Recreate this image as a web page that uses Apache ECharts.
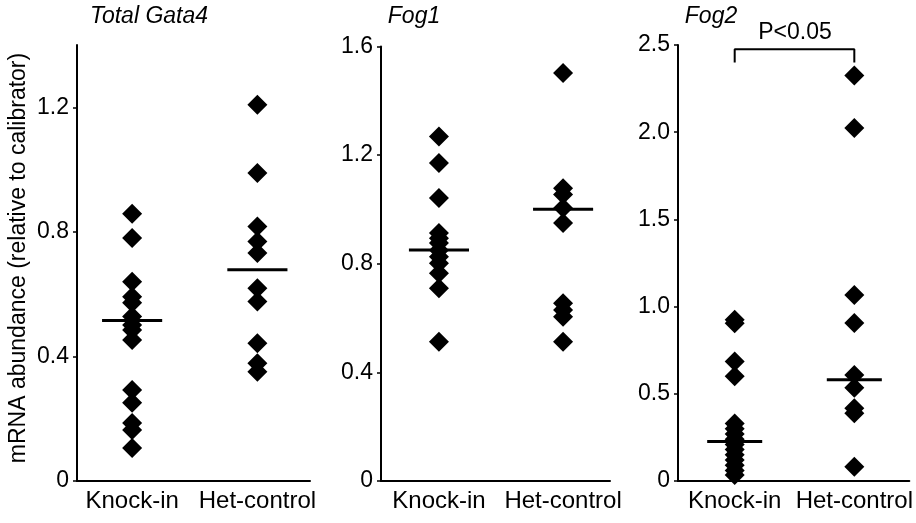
<!DOCTYPE html>
<html>
<head>
<meta charset="utf-8">
<script src="https://cdn.jsdelivr.net/npm/echarts@6/dist/echarts.min.js"></script>
<style>
html,body{margin:0;padding:0;background:#fff;}
#c{width:916px;height:523px;}
</style>
</head>
<body>
<div id="c"></div>
<script>
// ---- data ----
const categories = ['Knock-in', 'Het-control'];
const panelTitles = ['Total Gata4', 'Fog1', 'Fog2'];
const yAxisTitle = 'mRNA abundance (relative to calibrator)';
const sigLabel = 'P<0.05';

const gata4Knock = [0.858, 0.780, 0.640, 0.592, 0.572, 0.528, 0.501, 0.485, 0.453, 0.292, 0.251, 0.186, 0.164, 0.106];
const gata4Het   = [1.208, 0.989, 0.817, 0.769, 0.732, 0.619, 0.576, 0.442, 0.378, 0.351];
const gata4Mean  = [0.515, 0.678];

const fog1Knock = [1.269, 1.171, 1.042, 0.913, 0.894, 0.876, 0.850, 0.826, 0.802, 0.765, 0.710, 0.513];
const fog1Het   = [1.502, 1.078, 1.055, 1.005, 0.950, 0.655, 0.630, 0.605, 0.513];
const fog1Mean  = [0.851, 1.001];

const fog2Knock = [0.925, 0.905, 0.685, 0.600, 0.330, 0.300, 0.270, 0.240, 0.210, 0.180, 0.150, 0.120, 0.090, 0.060, 0.035];
const fog2Het   = [2.325, 2.024, 1.066, 0.906, 0.608, 0.535, 0.417, 0.388, 0.082];
const fog2Mean  = [0.227, 0.581];

const gata4Ticks = [0, 0.4, 0.8, 1.2];
const fog1Ticks  = [0, 0.4, 0.8, 1.2, 1.6];
const fog2Ticks  = [0, 0.5, 1.0, 1.5, 2.0, 2.5];
const yMax = [1.4, 1.6, 2.5];

// significance bracket (Fog2 panel), in data units
const bracketTop = 2.475;
const bracketFoot = 2.40;

// ---- layout / style ----
const FONT = '"Liberation Sans", Arial, Helvetica, sans-serif';
const panels = [
  { knock: gata4Knock, het: gata4Het, mean: gata4Mean, ticks: gata4Ticks,
    grid: { left: 77, right: 606, top: 45, bottom: 42 }, xr: [0.56, 2.42], half: 0.24 },
  { knock: fog1Knock, het: fog1Het, mean: fog1Mean, ticks: fog1Ticks,
    grid: { left: 381, right: 306, top: 46.5, bottom: 42 }, xr: [0.533, 2.378], half: 0.242 },
  { knock: fog2Knock, het: fog2Het, mean: fog2Mean, ticks: fog2Ticks,
    grid: { left: 678, right: 1, top: 45, bottom: 42 }, xr: [0.526, 2.46], half: 0.23 }
];

const grid = [], xAxis = [], yAxis = [], series = [];
panels.forEach((p, i) => {
  grid.push(p.grid);
  xAxis.push({
    type: 'value', gridIndex: i, min: p.xr[0], max: p.xr[1],
    axisLine: { show: true, lineStyle: { color: '#000', width: 2 } },
    axisTick: { show: false },
    splitLine: { show: false },
    axisLabel: {
      customValues: [1, 2],
      formatter: v => categories[Math.round(v) - 1],
      color: '#000', fontSize: 24, fontFamily: FONT, margin: 8
    }
  });
  yAxis.push({
    type: 'value', gridIndex: i, min: 0, max: yMax[i],
    axisLine: { show: true, lineStyle: { color: '#000', width: 2 } },
    axisTick: { show: true, customValues: p.ticks, length: 4, inside: false, lineStyle: { color: '#000', width: 1.5 } },
    splitLine: { show: false },
    axisLabel: {
      customValues: p.ticks,
      formatter: v => (v === 0 ? '0' : v.toFixed(1)),
      color: '#000', fontSize: 23, fontFamily: FONT, margin: 8
    }
  });
  const sym = { type: 'scatter', xAxisIndex: i, yAxisIndex: i, symbol: 'diamond', symbolSize: 20,
                itemStyle: { color: '#000', opacity: 1 }, silent: true, clip: false };
  series.push(Object.assign({}, sym, { data: p.knock.map(v => [1, v]) }));
  series.push(Object.assign({}, sym, { data: p.het.map(v => [2, v]) }));
  p.mean.forEach((m, k) => {
    const cx = k + 1;
    series.push({
      type: 'line', xAxisIndex: i, yAxisIndex: i, symbol: 'none', silent: true, clip: false, z: 5,
      lineStyle: { color: '#000', width: 3 },
      data: [[cx - p.half, m], [cx + p.half, m]]
    });
  });
});

// bracket on Fog2
series.push({
  type: 'line', xAxisIndex: 2, yAxisIndex: 2, symbol: 'none', silent: true, clip: false,
  lineStyle: { color: '#000', width: 2 },
  data: [[1, bracketFoot], [1, bracketTop], [2, bracketTop], [2, bracketFoot]]
});

const titlePos = [[149, 17], [414, 17], [711, 17]];
const graphic = panelTitles.map((t, i) => ({
  type: 'text', x: titlePos[i][0], y: titlePos[i][1],
  style: { text: t, fill: '#000', font: 'italic 23px ' + FONT, textAlign: 'center', textVerticalAlign: 'middle' }
}));
graphic.push({
  type: 'text', x: 795, y: 33,
  style: { text: sigLabel, fill: '#000', font: '23px ' + FONT, textAlign: 'center', textVerticalAlign: 'middle' }
});
graphic.push({
  type: 'text', x: 19, y: 258, rotation: Math.PI / 2,
  style: { text: yAxisTitle, fill: '#000', font: '23px ' + FONT, textAlign: 'center', textVerticalAlign: 'middle' }
});

const chart = echarts.init(document.getElementById('c'), null, { renderer: 'canvas' });
chart.setOption({
  animation: false,
  backgroundColor: '#fff',
  grid, xAxis, yAxis, series, graphic
});
</script>
</body>
</html>
